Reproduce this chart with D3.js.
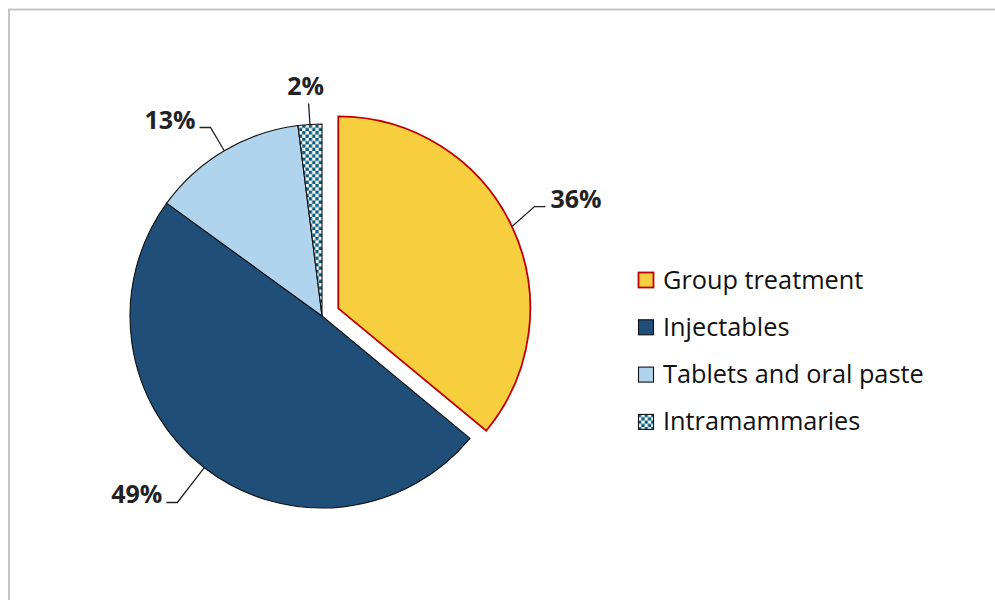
<!DOCTYPE html>
<html>
<head>
<meta charset="utf-8">
<script src="https://cdn.jsdelivr.net/npm/d3@7/dist/d3.min.js"></script>
<style>
  html, body { margin: 0; padding: 0; background: #fff; }
  svg { display: block; }
</style>
</head>
<body>
<svg id="chart" width="995" height="600"></svg>
<script>
// Share of treatments by administration route (percent)
const categories = ["Group treatment", "Injectables", "Tablets and oral paste", "Intramammaries"];
const shares = [36, 49, 13, 2];
const valueLabels = ["36%", "49%", "13%", "2%"];

const fills = ["#F7CE3D", "#1F4E79", "#B0D4EE", "url(#checks)"];
const strokes = ["#C00000", "#111", "#111", "#111"];

const svg = d3.select("#chart");
const W = 995, H = 600;

// chart area frame
svg.append("rect")
  .attr("x", 9).attr("y", 9.5)
  .attr("width", W + 10).attr("height", H + 10)
  .attr("fill", "#fff")
  .attr("stroke", "#BFBFBF").attr("stroke-width", 1.8);

// checkerboard fill
const defs = svg.append("defs");
const pat = defs.append("pattern")
  .attr("id", "checks")
  .attr("patternUnits", "userSpaceOnUse")
  .attr("width", 6.6).attr("height", 6.6);
pat.append("rect").attr("width", 6.6).attr("height", 6.6).attr("fill", "#fff");
pat.append("rect").attr("width", 3.3).attr("height", 3.3).attr("fill", "#0C5A7A");
pat.append("rect").attr("x", 3.3).attr("y", 3.3).attr("width", 3.3).attr("height", 3.3).attr("fill", "#0C5A7A");

const cx = 322, cy = 316, R = 192;
const explode = [18, 0, 0, 0];

const pie = d3.pie().sort(null).value(d => d).startAngle(0).endAngle(2 * Math.PI);
const arcs = pie(shares);
const arc = d3.arc().innerRadius(0).outerRadius(R);

const g = svg.append("g").attr("transform", `translate(${cx},${cy})`);

const unit = a => [Math.sin(a), -Math.cos(a)];

g.selectAll("path.slice")
  .data(arcs)
  .join("path")
  .attr("class", "slice")
  .attr("d", arc)
  .attr("transform", (d, i) => {
    const m = (d.startAngle + d.endAngle) / 2, u = unit(m);
    return `translate(${u[0] * explode[i]},${u[1] * explode[i]})`;
  })
  .attr("fill", (d, i) => fills[i])
  .attr("stroke", (d, i) => strokes[i])
  .attr("stroke-width", (d, i) => i === 0 ? 1.8 : 1.1)
  .attr("stroke-linejoin", "miter");

// leader lines and percentage labels: elbow radius extension, elbow angle tweak (deg), side
const labelLayout = [
  { ext: 29, turn: -2.2, dir: 1 },
  { ext: 44, turn: 0, dir: -1 },
  { ext: 27, turn: 0, dir: -1 },
  { ext: 21, turn: 0, dir: 0 }
];

arcs.forEach((d, i) => {
  const m = (d.startAngle + d.endAngle) / 2, u = unit(m);
  const L = labelLayout[i];
  const u2 = unit(m + L.turn * Math.PI / 180);
  const ox = u[0] * explode[i], oy = u[1] * explode[i];
  const p0 = [ox + u[0] * R, oy + u[1] * R];
  const p1 = [ox + u2[0] * (R + L.ext), oy + u2[1] * (R + L.ext)];
  const pts = [p0, p1];
  if (L.dir !== 0) pts.push([p1[0] + L.dir * 11, p1[1]]);
  g.append("path")
    .attr("d", d3.line()(pts))
    .attr("fill", "none")
    .attr("stroke", "#222")
    .attr("stroke-width", 1.3);
  const end = pts[pts.length - 1];
  const t = g.append("text")
    .text(valueLabels[i])
    .attr("font-family", "'Open Sans', 'Noto Sans', sans-serif")
    .attr("font-weight", "bold")
    .attr("font-size", 25)
    .attr("fill", "#222");
  if (L.dir === 1) t.attr("x", end[0] + 5).attr("y", end[1] + 1).attr("text-anchor", "start");
  else if (L.dir === -1) t.attr("x", end[0] - 4).attr("y", end[1] + 1).attr("text-anchor", "end");
  else t.attr("x", end[0] - 3).attr("y", end[1] - 8).attr("text-anchor", "middle");
});

// legend
const legend = svg.append("g").attr("transform", "translate(638,272)");
const rowH = 47.3;
categories.forEach((c, i) => {
  const row = legend.append("g").attr("transform", `translate(0,${i * rowH})`);
  row.append("rect")
    .attr("x", 0.5).attr("y", 0.5)
    .attr("width", 15).attr("height", 15)
    .attr("fill", fills[i])
    .attr("stroke", strokes[i])
    .attr("stroke-width", i === 0 ? 1.8 : 1.1);
  row.append("text")
    .attr("x", 25).attr("y", 16.5)
    .text(c)
    .attr("font-family", "'Open Sans', 'Noto Sans', sans-serif")
    .attr("font-size", 25.3)
    .attr("fill", "#111");
});
</script>
</body>
</html>
